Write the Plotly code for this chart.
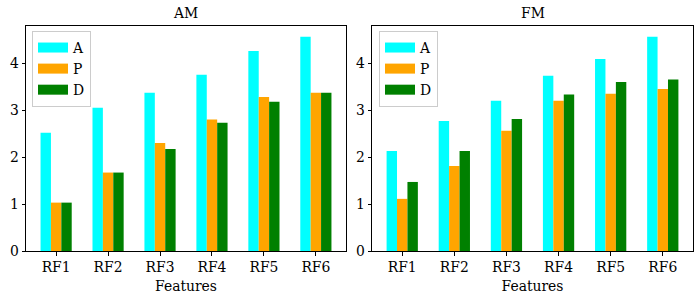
import plotly.graph_objects as go

categories = ["RF1", "RF2", "RF3", "RF4", "RF5", "RF6"]
series_names = ["A", "P", "D"]
colors = ["#00ffff", "#ffa500", "#008000"]

am_A = [2.52, 3.05, 3.37, 3.75, 4.26, 4.56]
am_P = [1.03, 1.67, 2.30, 2.80, 3.28, 3.37]
am_D = [1.03, 1.67, 2.17, 2.73, 3.18, 3.37]

fm_A = [2.13, 2.77, 3.20, 3.73, 4.09, 4.56]
fm_P = [1.11, 1.81, 2.56, 3.20, 3.35, 3.45]
fm_D = [1.47, 2.13, 2.81, 3.33, 3.60, 3.65]

panels = [("AM", [am_A, am_P, am_D]), ("FM", [fm_A, fm_P, fm_D])]

FONT = "DejaVu Serif, Liberation Serif, serif"
FS = 13.9
W, H = 700, 300

fig = go.Figure()

xdoms = [[26 / W, 346 / W], [372 / W, 693 / W]]
ydom = [(H - 251) / H, (H - 26) / H]

for i, (title, data) in enumerate(panels):
    xa = "x" if i == 0 else "x2"
    ya = "y" if i == 0 else "y2"
    lg = "legend" if i == 0 else "legend2"
    for name, vals, col in zip(series_names, data, colors):
        fig.add_trace(go.Bar(x=categories, y=vals, name=name, marker_color=col,
                             marker_line_width=0, xaxis=xa, yaxis=ya,
                             showlegend=False))
    for name, col in zip(series_names, colors):
        fig.add_trace(go.Scatter(x=[categories[0]], y=[None], mode="lines", name=name,
                                 line=dict(color=col, width=10), xaxis=xa, yaxis=ya,
                                 legend=lg, showlegend=True, hoverinfo="skip"))

axis_common = dict(showline=True, linecolor="black", linewidth=1, mirror=True,
                   ticks="outside", ticklen=3.5, tickwidth=0.8, tickcolor="black",
                   showgrid=False, zeroline=False, automargin=False,
                   tickfont=dict(family=FONT, size=FS, color="black"))

layout = dict(
    width=W, height=H,
    margin=dict(l=0, r=0, t=0, b=0, autoexpand=False),
    plot_bgcolor="white", paper_bgcolor="white",
    barmode="group", bargap=0.4, bargroupgap=0,
    font=dict(family=FONT, size=FS, color="black"),
    showlegend=True,
)
for i in range(2):
    sfx = "" if i == 0 else "2"
    layout["xaxis" + sfx] = dict(domain=xdoms[i], anchor="y" + sfx, range=[-0.58, 5.58],
                                 type="category",
                                 title=dict(text="Features", font=dict(family=FONT, size=FS), standoff=7),
                                 **axis_common)
    layout["yaxis" + sfx] = dict(domain=ydom, anchor="x" + sfx, range=[0, 4.79],
                                 tickmode="linear", tick0=0, dtick=1, **axis_common)

legend_common = dict(xanchor="left", yanchor="top", bgcolor="rgba(255,255,255,0.8)",
                     bordercolor="#cccccc", borderwidth=1,
                     font=dict(family=FONT, size=FS, color="black"),
                     itemwidth=30, tracegroupgap=0)
layout["legend"] = dict(x=32 / W, y=(H - 31) / H, **legend_common)
layout["legend2"] = dict(x=379 / W, y=(H - 31) / H, **legend_common)

annotations = []
for i, (title, _) in enumerate(panels):
    annotations.append(dict(text=title, x=(xdoms[i][0] + xdoms[i][1]) / 2, y=(H - 13) / H,
                            xref="paper", yref="paper", showarrow=False,
                            xanchor="center", yanchor="middle",
                            font=dict(family=FONT, size=FS, color="black")))
layout["annotations"] = annotations

fig.update_layout(**layout)
fig.write_html("out.html", config={"displayModeBar": False},
               post_script="document.body.style.margin='0';document.body.style.padding='0';")
